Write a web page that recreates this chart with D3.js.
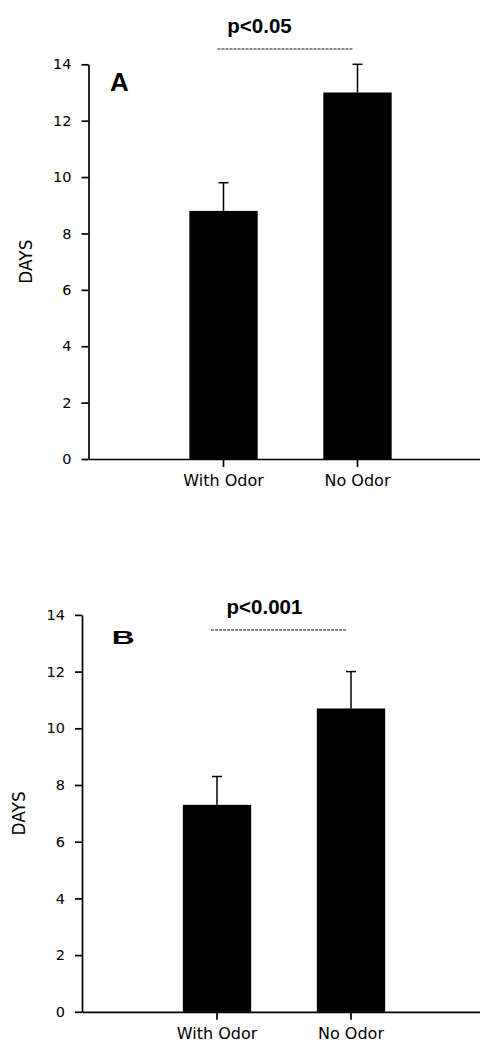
<!DOCTYPE html>
<html>
<head>
<meta charset="utf-8">
<title>Days with and without odor</title>
<script src="https://d3js.org/d3.v7.min.js"></script>
<style>
html, body {
  margin: 0;
  padding: 0;
  background: #fff;
}
svg {
  display: block;
}
.axis path,
.axis line {
  fill: none;
  stroke: #000;
  stroke-width: 1.7px;
}
.axis text {
  font-family: "DejaVu Sans", sans-serif;
  fill: #000;
}
.bar {
  fill: #000;
}
.err {
  stroke: #000;
  stroke-width: 1.5px;
}
.sig {
  stroke: #666;
  stroke-width: 1.4px;
  stroke-dasharray: 3,1;
}
</style>
</head>
<body>
<svg width="480" height="1043"></svg>
<script>
// values
var categories = ["With Odor", "No Odor"];
var meansA = [8.8, 13.0];
var errorsA = [1.0, 1.0];
var meansB = [7.3, 10.7];
var errorsB = [1.0, 1.3];
var yTicks = [0, 2, 4, 6, 8, 10, 12, 14];
var panelLetters = ["A", "B"];
var pValues = ["p<0.05", "p<0.001"];
var yLabel = "DAYS";

var svg = d3.select("svg");

svg.append("rect")
    .attr("width", 480)
    .attr("height", 1043)
    .attr("fill", "#fff");

// where each panel sits on the page
var panels = [
  {means: meansA, errors: errorsA, letter: panelLetters[0], p: pValues[0],
   left: 88.5, top: 64.3, bottom: 459, letterX: 21.5, letterY: 90.7, letterScale: 1, letterSize: 26, pY: 33, pX: -31},
  {means: meansB, errors: errorsB, letter: panelLetters[1], p: pValues[1],
   left: 82, top: 614.9, bottom: 1011.8, letterX: 29.7, letterY: 644, letterScale: 1.7, letterSize: 18.6, pY: 614, pX: -19.5}
];

panels.forEach(function(pn) {
  var y = d3.scaleLinear()
      .domain([0, 14])
      .range([pn.bottom, pn.top]);

  var x = d3.scaleBand()
      .domain(categories)
      .range([pn.left, pn.left + 404])
      .paddingInner(0.49)
      .paddingOuter(0.7526);

  var bw = x.bandwidth();

  var g = svg.append("g");

  // x axis
  g.append("g")
      .attr("class", "axis axis--x")
      .attr("transform", "translate(0," + pn.bottom + ")")
      .call(d3.axisBottom(x).tickSize(8).tickSizeOuter(0).tickPadding(8))
    .selectAll("text")
      .style("font-size", "16px");

  // y axis
  g.append("g")
      .attr("class", "axis axis--y")
      .attr("transform", "translate(" + pn.left + ",0)")
      .call(d3.axisLeft(y).tickValues(yTicks).tickSize(7).tickSizeOuter(0).tickPadding(10))
    .selectAll("text")
      .style("font-size", "14.5px");

  g.append("text")
      .attr("transform", "translate(" + (pn.left - 57) + "," + ((pn.top + pn.bottom) / 2) + ") rotate(-90)")
      .attr("text-anchor", "middle")
      .style("font", "17px 'DejaVu Sans', sans-serif")
      .text(yLabel);

  // bars
  g.selectAll(".bar")
    .data(pn.means)
    .enter().append("rect")
      .attr("class", "bar")
      .attr("x", function(d, i) { return x(categories[i]); })
      .attr("y", function(d) { return y(d); })
      .attr("width", bw)
      .attr("height", function(d) { return y(0) - y(d); });

  // error bars, upper side only
  var err = g.selectAll(".errbar")
    .data(pn.means)
    .enter().append("g")
      .attr("class", "errbar");

  err.append("line")
      .attr("class", "err")
      .attr("x1", function(d, i) { return x(categories[i]) + bw / 2; })
      .attr("x2", function(d, i) { return x(categories[i]) + bw / 2; })
      .attr("y1", function(d) { return y(d); })
      .attr("y2", function(d, i) { return y(d + pn.errors[i]); });

  err.append("line")
      .attr("class", "err")
      .attr("x1", function(d, i) { return x(categories[i]) + bw / 2 - 5; })
      .attr("x2", function(d, i) { return x(categories[i]) + bw / 2 + 5; })
      .attr("y1", function(d, i) { return y(d + pn.errors[i]); })
      .attr("y2", function(d, i) { return y(d + pn.errors[i]); });

  // significance
  var c0 = x(categories[0]) + bw / 2,
      c1 = x(categories[1]) + bw / 2;

  g.append("line")
      .attr("class", "sig")
      .attr("x1", c0 - 6)
      .attr("x2", c1 - 4)
      .attr("y1", pn.pY + 16)
      .attr("y2", pn.pY + 16);

  g.append("text")
      .attr("x", (c0 + c1) / 2 + pn.pX)
      .attr("y", pn.pY)
      .attr("text-anchor", "middle")
      .style("font", "bold 20.5px 'Liberation Sans', Arial, sans-serif")
      .text(pn.p);

  g.append("text")
      .attr("transform", "translate(" + (pn.left + pn.letterX) + "," + pn.letterY + ") scale(" + pn.letterScale + ",1)")
      .style("font", "bold " + pn.letterSize + "px 'Liberation Sans', Arial, sans-serif")
      .text(pn.letter);
});
</script>
</body>
</html>
